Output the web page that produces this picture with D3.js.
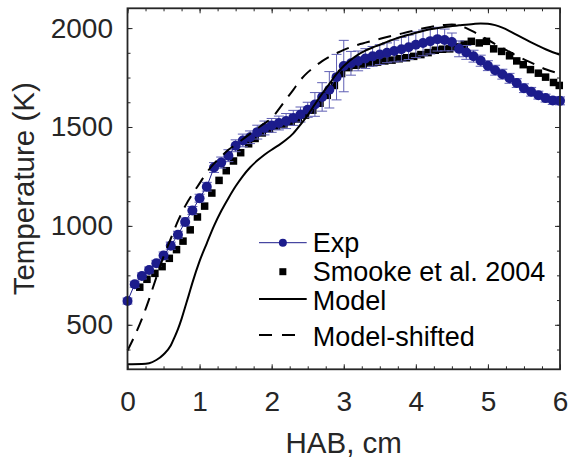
<!DOCTYPE html>
<html><head><meta charset="utf-8">
<script src="https://cdn.jsdelivr.net/npm/d3@7"></script>
<style>
html,body{margin:0;padding:0;background:#fff;}
svg{display:block;font-family:"Liberation Sans",Arial,Helvetica,sans-serif;}
</style></head>
<body><svg id="c" width="568" height="459"></svg>
<script>
// ---- data ----
const expX = [0,0.1,0.2,0.3,0.4,0.5,0.6,0.7,0.8,0.9,1.0,1.1,1.2,1.3,1.4,1.5,1.6,1.7,1.8,1.9,2.0,2.1,2.2,2.3,2.4,2.5,2.6,2.7,2.8,2.9,3.0,3.1,3.2,3.3,3.4,3.5,3.6,3.7,3.8,3.9,4.0,4.1,4.2,4.3,4.4,4.5,4.6,4.7,4.8,4.9,5.0,5.1,5.2,5.3,5.4,5.5,5.6,5.7,5.8,5.9,6.0];
const expT = [620,705,747,777,811,850,900,955,1020,1078,1140,1198,1295,1320,1355,1405,1432,1448,1474,1495,1508,1520,1530,1546,1563,1587,1614,1652,1688,1752,1808,1822,1834,1846,1857,1866,1875,1884,1893,1903,1916,1925,1934,1944,1940,1930,1895,1877,1858,1835,1810,1787,1767,1746,1722,1696,1678,1661,1646,1634,1632];
const expErr = [15,15,15,15,15,18,18,18,20,20,20,22,25,28,30,30,32,32,35,35,35,35,38,38,38,38,60,72,92,115,130,60,50,50,50,50,50,55,60,62,65,65,65,60,55,45,40,35,30,28,25,25,25,25,22,22,22,20,20,20,20];

const smookeX = [0.17,0.27,0.38,0.48,0.58,0.68,0.77,0.87,0.97,1.07,1.17,1.27,1.37,1.47,1.57,1.68,1.77,1.87,1.97,2.07,2.17,2.27,2.37,2.47,2.57,2.67,2.77,2.87,2.97,3.07,3.17,3.27,3.37,3.47,3.57,3.67,3.77,3.87,3.97,4.07,4.17,4.27,4.37,4.47,4.57,4.67,4.77,4.88,4.98,5.08,5.19,5.30,5.40,5.49,5.59,5.70,5.80,5.91,5.99];
const smookeT = [690,730,760,794,836,880,923,980,1045,1100,1166,1230,1279,1328,1370,1415,1442,1470,1490,1505,1515,1527,1540,1560,1585,1620,1660,1710,1770,1800,1812,1818,1824,1828,1834,1838,1845,1850,1857,1866,1876,1888,1893,1895,1905,1918,1933,1925,1933,1895,1882,1860,1834,1815,1790,1772,1752,1725,1710];

const modelX = [0,0.2,0.3,0.4,0.5,0.6,0.65,0.7,0.75,0.8,0.85,0.9,1.0,1.1,1.2,1.3,1.4,1.5,1.6,1.7,1.8,1.9,2.0,2.1,2.2,2.3,2.4,2.5,2.6,2.7,2.8,2.9,3.0,3.1,3.2,3.3,3.4,3.5,3.6,3.7,3.8,3.9,4.0,4.2,4.4,4.6,4.8,4.9,5.0,5.1,5.2,5.3,5.4,5.5,5.6,5.7,5.8,5.9,6.0];
const modelT = [301,302,306,322,350,395,435,478,530,590,650,712,822,912,1000,1075,1140,1200,1252,1295,1330,1360,1385,1408,1435,1468,1512,1560,1615,1668,1718,1768,1808,1840,1866,1886,1902,1916,1930,1944,1956,1966,1976,1994,2006,2014,2021,2023,2022,2015,2002,1985,1966,1947,1928,1910,1893,1878,1865];

const shiftedX = [0,0.1,0.2,0.3,0.4,0.5,0.6,0.7,0.8,0.9,1.0,1.1,1.2,1.3,1.4,1.5,1.6,1.7,1.8,1.9,2.0,2.1,2.2,2.3,2.4,2.5,2.6,2.7,2.8,2.9,3.0,3.2,3.4,3.6,3.8,4.0,4.2,4.4,4.5,4.6,4.7,4.8,4.9,5.0,5.2,5.4,5.6,5.8,6.0];
const shiftedT = [370,445,530,630,740,845,935,1025,1100,1160,1215,1270,1315,1350,1385,1410,1438,1465,1492,1518,1545,1590,1640,1688,1738,1776,1806,1833,1855,1873,1890,1916,1936,1955,1972,1990,2006,2016,2018,2014,2000,1982,1962,1940,1900,1860,1825,1792,1770];

const xTicks = [0,1,2,3,4,5,6];
const yTicks = [500,1000,1500,2000];
const legendLabels = ["Exp","Smooke et al. 2004","Model","Model-shifted"];
const xLabel = "HAB, cm";
const yLabel = "Temperature (K)";

// ---- layout ----
const L=127.5, R=560, T=8.3, B=369.3;
const axisColor="#262626";
const expColor="#1c1c8c", errColor="#5f5fb4";
const svg=d3.select("#c");
const x=d3.scaleLinear().domain([0,6]).range([L,R]);
const y=d3.scaleLinear().domain([275,2100]).range([B,T]);

const xMinor=d3.range(0,6.001,0.25);
const yMinor=d3.range(375,2100,125);

function styleAxis(g){
  g.select(".domain").remove();
  g.selectAll("line").attr("stroke",axisColor).attr("stroke-width",1);
  g.selectAll("text").attr("fill",axisColor).style("font-size","28px").attr("font-family",null);
}
// minor ticks
svg.append("g").attr("transform",`translate(0,${B})`).call(d3.axisBottom(x).tickValues(xMinor).tickFormat("").tickSizeInner(-3).tickSizeOuter(0)).call(styleAxis);
svg.append("g").attr("transform",`translate(0,${T})`).call(d3.axisTop(x).tickValues(xMinor).tickFormat("").tickSizeInner(-3).tickSizeOuter(0)).call(styleAxis);
svg.append("g").attr("transform",`translate(${L},0)`).call(d3.axisLeft(y).tickValues(yMinor).tickFormat("").tickSizeInner(-3).tickSizeOuter(0)).call(styleAxis);
svg.append("g").attr("transform",`translate(${R},0)`).call(d3.axisRight(y).tickValues(yMinor).tickFormat("").tickSizeInner(-3).tickSizeOuter(0)).call(styleAxis);
// major ticks
svg.append("g").attr("transform",`translate(0,${B})`).call(d3.axisBottom(x).tickValues(xTicks).tickFormat(d3.format("d")).tickSizeInner(-5).tickSizeOuter(0).tickPadding(22)).call(styleAxis);
svg.append("g").attr("transform",`translate(0,${T})`).call(d3.axisTop(x).tickValues(xTicks).tickFormat("").tickSizeInner(-5).tickSizeOuter(0)).call(styleAxis);
svg.append("g").attr("transform",`translate(${L},0)`).call(d3.axisLeft(y).tickValues(yTicks).tickFormat(d3.format("d")).tickSizeInner(-5).tickSizeOuter(0).tickPadding(14.5)).call(styleAxis);
svg.append("g").attr("transform",`translate(${R},0)`).call(d3.axisRight(y).tickValues(yTicks).tickFormat("").tickSizeInner(-5).tickSizeOuter(0)).call(styleAxis);

// axis labels
svg.append("text").attr("x",(L+R)/2).attr("y",453).attr("text-anchor","middle").attr("fill",axisColor).style("font-size","29.5px").text(xLabel);
svg.append("text").attr("transform",`translate(34,${(T+B)/2}) rotate(-90)`).attr("text-anchor","middle").attr("fill",axisColor).style("font-size","29.5px").text(yLabel);

// ---- data marks ----
const smooke=smookeX.map((v,i)=>({x:v,t:smookeT[i]}));
const expD=expX.map((v,i)=>({x:v,t:expT[i],e:expErr[i]}));
const modelD=modelX.map((v,i)=>({x:v,t:modelT[i]}));
const shiftD=shiftedX.map((v,i)=>({x:v,t:shiftedT[i]}));

const sq=7.5, cr=5;
svg.append("g").selectAll("rect").data(smooke).join("rect")
  .attr("x",d=>x(d.x)-sq/2).attr("y",d=>y(d.t)-sq/2).attr("width",sq).attr("height",sq).attr("fill","#000");

// error bars
const eg=svg.append("g").attr("stroke",errColor).attr("stroke-width",1);
const cw=5;
expD.forEach(d=>{
  eg.append("line").attr("x1",x(d.x)).attr("x2",x(d.x)).attr("y1",y(d.t-d.e)).attr("y2",y(d.t+d.e));
  eg.append("line").attr("x1",x(d.x)-cw).attr("x2",x(d.x)+cw).attr("y1",y(d.t-d.e)).attr("y2",y(d.t-d.e));
  eg.append("line").attr("x1",x(d.x)-cw).attr("x2",x(d.x)+cw).attr("y1",y(d.t+d.e)).attr("y2",y(d.t+d.e));
});
const line=d3.line().x(d=>x(d.x)).y(d=>y(d.t));
svg.append("path").datum(expD).attr("d",line).attr("fill","none").attr("stroke",expColor).attr("stroke-width",1);
svg.append("g").selectAll("circle").data(expD).join("circle")
  .attr("cx",d=>x(d.x)).attr("cy",d=>y(d.t)).attr("r",cr).attr("fill",expColor);

const smooth=d3.line().x(d=>x(d.x)).y(d=>y(d.t)).curve(d3.curveMonotoneX);
svg.append("path").datum(modelD).attr("d",smooth).attr("fill","none").attr("stroke","#000").attr("stroke-width",2);
svg.append("path").datum(shiftD).attr("d",smooth).attr("fill","none").attr("stroke","#000").attr("stroke-width",2).attr("stroke-dasharray","13,9");

// box
svg.append("rect").attr("x",L).attr("y",T).attr("width",R-L).attr("height",B-T).attr("fill","none").attr("stroke",axisColor).attr("stroke-width",1.8);

// ---- legend ----
const lg=svg.append("g");
const lx0=259, lx1=306.7, tx=312.7, fs="27px";
const rows=[{ly:242.7,by:251.7},{ly:271.7,by:281},{ly:299,by:310},{ly:335,by:346}];
lg.append("line").attr("x1",lx0).attr("x2",lx1).attr("y1",rows[0].ly).attr("y2",rows[0].ly).attr("stroke",expColor).attr("stroke-width",1);
lg.append("circle").attr("cx",(lx0+lx1)/2).attr("cy",rows[0].ly).attr("r",4).attr("fill",expColor);
lg.append("rect").attr("x",(lx0+lx1)/2-3.5).attr("y",rows[1].ly-3.5).attr("width",7).attr("height",7).attr("fill","#000");
lg.append("line").attr("x1",lx0).attr("x2",lx1).attr("y1",rows[2].ly).attr("y2",rows[2].ly).attr("stroke","#000").attr("stroke-width",2);
lg.append("line").attr("x1",lx0).attr("x2",300).attr("y1",rows[3].ly).attr("y2",rows[3].ly).attr("stroke","#000").attr("stroke-width",2).attr("stroke-dasharray","13,10");
legendLabels.forEach((s,i)=>{
  lg.append("text").attr("x",tx).attr("y",rows[i].by).style("font-size",fs).attr("fill","#000").text(s);
});
</script></body></html>
